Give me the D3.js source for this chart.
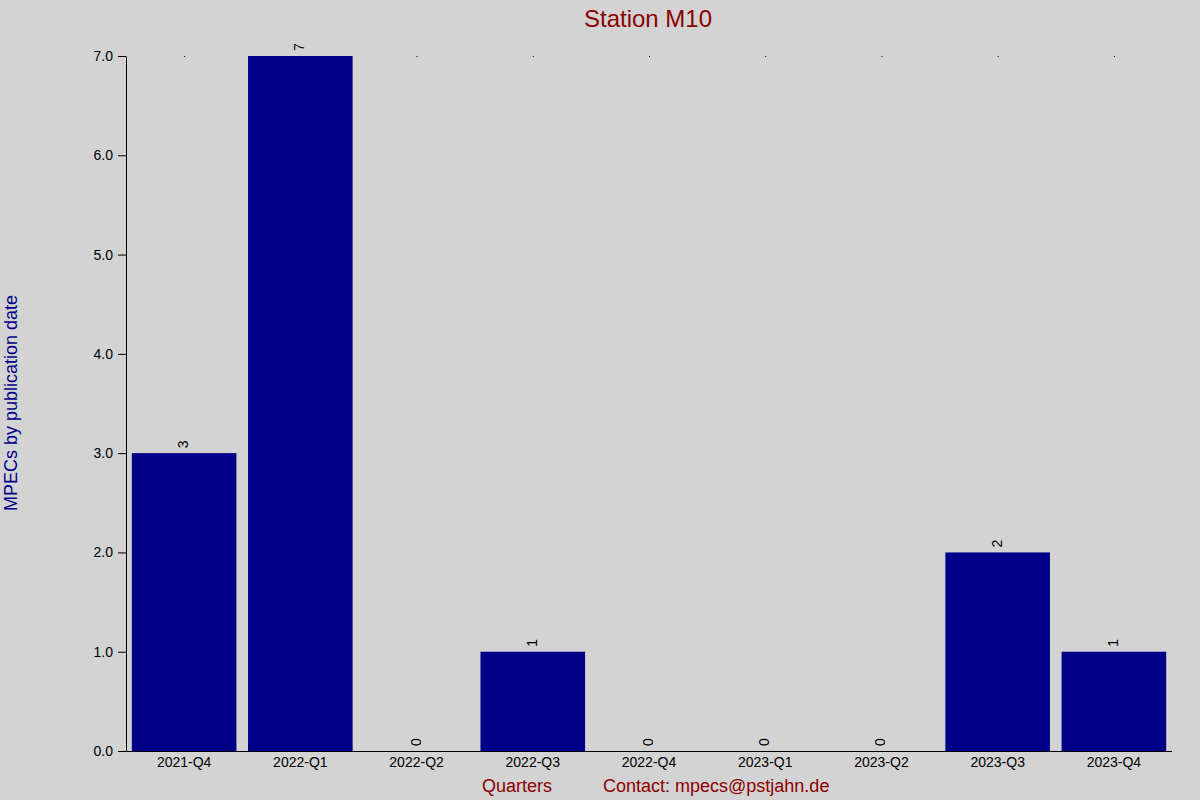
<!DOCTYPE html><html><head><script src="https://cdn.jsdelivr.net/npm/d3@7"></script>
<style>body{margin:0;background:#d3d3d3}</style></head><body><svg id="c" width="1200" height="800"></svg>
<script>
const categories=["2021-Q4","2022-Q1","2022-Q2","2022-Q3","2022-Q4","2023-Q1","2023-Q2","2023-Q3","2023-Q4"];
const values=[3,7,0,1,0,0,0,2,1];
const yTicks=[0,1,2,3,4,5,6,7];
const svg=d3.select("#c");const F="Liberation Sans, Arial, sans-serif";
svg.append("rect").attr("width",1200).attr("height",800).attr("fill","#d3d3d3");
const x=d3.scaleBand().domain(categories).range([126,1172]).paddingInner(0.1).paddingOuter(0.05);
const y=d3.scaleLinear().domain([0,7]).range([751,56]);
svg.selectAll(".b").data(values).join("rect").attr("x",(d,i)=>x(categories[i])).attr("width",x.bandwidth())
 .attr("y",d=>y(d)).attr("height",d=>y(0)-y(d)).attr("fill","#000088");
svg.selectAll(".l").data(values).join("text").attr("transform",(d,i)=>`translate(${x(categories[i])+x.bandwidth()/2+4},${y(d)-5}) rotate(-90)`)
 .text(d=>d).attr("font-family",F).attr("font-size",14).attr("fill","#000");
svg.selectAll(".dt").data(categories).join("rect").attr("x",d=>x(d)+x.bandwidth()/2).attr("y",56).attr("width",1).attr("height",1).attr("fill","#000");
const ya=svg.append("g").attr("transform","translate(126,0)").call(d3.axisLeft(y).tickValues(yTicks).tickSize(8).tickSizeOuter(0));
ya.select(".domain").attr("stroke","#000");ya.selectAll("text").attr("font-family",F).attr("font-size",14).attr("fill","#000").attr("dx",-2);
const xa=svg.append("g").attr("transform","translate(0,751)").call(d3.axisBottom(x).tickSize(0));
xa.select(".domain").attr("d","M118,0.5H1172");xa.selectAll("text").attr("font-family",F).attr("font-size",14).attr("fill","#000").attr("dy","0.9em");
svg.append("text").attr("x",648).attr("y",27).attr("text-anchor","middle").attr("font-family",F).attr("font-size",24).attr("fill","#8b0000").text("Station M10");
svg.append("text").attr("x",517).attr("y",792).attr("text-anchor","middle").attr("font-family",F).attr("font-size",18).attr("fill","#8b0000").text("Quarters");
svg.append("text").attr("x",603).attr("y",792).attr("font-family",F).attr("font-size",18).attr("fill","#8b0000").text("Contact: mpecs@pstjahn.de");
svg.append("text").attr("transform","translate(17,403) rotate(-90)").attr("text-anchor","middle").attr("font-family",F).attr("font-size",18).attr("fill","#000088").text("MPECs by publication date");
</script></body></html>
